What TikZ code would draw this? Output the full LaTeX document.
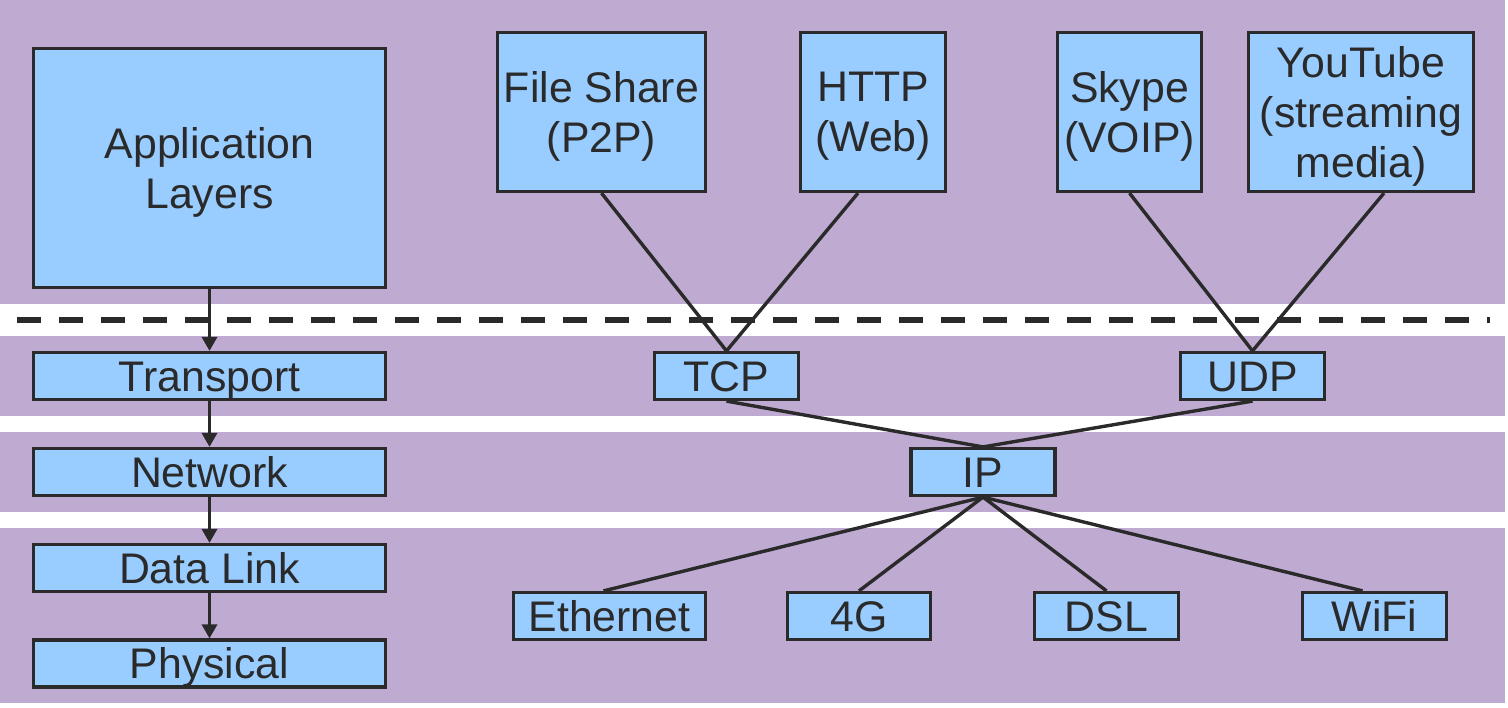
\documentclass[tikz,border=0pt]{standalone}
\usepackage{fontspec}
\setmainfont{Liberation Sans}
\usetikzlibrary{arrows.meta}
\definecolor{bandc}{RGB}{191,170,210}
\definecolor{boxc}{RGB}{153,204,255}
\definecolor{inkc}{RGB}{42,42,42}
% last line of a multi-line label: no depth, so the block centres on cap height to baseline
\newcommand{\lastrow}[1]{\smash{#1}}
\tikzset{
  box/.style={draw=inkc, fill=boxc, line width=1.6pt, inner sep=0pt,
    align=center, text=inkc, font=\fontsize{21.4}{25}\selectfont},
  onerow/.style={box, text height=15.3pt, text depth=0pt},
  band/.style={fill=bandc, draw=none},
  link/.style={draw=inkc, line width=1.7pt},
  down/.style={draw=inkc, line width=1.7pt, -{Triangle[width=7.5pt,length=7pt]}},
  sepline/.style={draw=inkc, line width=2.8pt, dash pattern=on 12pt off 9pt}
}
\begin{document}
\begin{tikzpicture}[x=0.5pt,y=-0.5pt]
  \useasboundingbox (0,0) rectangle (1508,707);
  % horizontal layer bands
  \fill[white] (0,0) rectangle (1508,707);
  \path[band] (0,0) rectangle (1505,304);
  \path[band] (0,336) rectangle (1505,416);
  \path[band] (0,432) rectangle (1505,512);
  \path[band] (0,528) rectangle (1505,703);
  % boundary between application and transport
  \draw[sepline] (17,320) -- (1490,320);

  % layer stack on the left
  \node[box, minimum width=176pt, minimum height=119.5pt] (app) at (209.5,168) {Application\\\lastrow{Layers}};
  \node[onerow, minimum width=176pt, minimum height=23.5pt] (trans) at (209.5,376) {Transport};
  \node[onerow, minimum width=176pt, minimum height=23.5pt] (net) at (209.5,472) {Network};
  \node[onerow, minimum width=176pt, minimum height=23.5pt] (dl) at (209.5,568) {Data Link};
  \node[onerow, minimum width=176pt, minimum height=23.5pt] (phy) at (209.5,663.5) {Physical};

  \draw[down] (app.south) -- (trans.north);
  \draw[down] (trans.south) -- (net.north);
  \draw[down] (net.south) -- (dl.north);
  \draw[down] (dl.south) -- (phy.north);

  % applications
  \node[box, minimum width=104pt, minimum height=79.5pt] (fs) at (601.5,112) {File Share\\\lastrow{(P2P)}};
  \node[box, minimum width=72.5pt, minimum height=79.5pt] (http) at (873,112) {HTTP\\\lastrow{(Web)}};
  \node[box, minimum width=72pt, minimum height=79.5pt] (skype) at (1129.5,112) {Skype\\\lastrow{(VOIP)}};
  \node[box, minimum width=112.5pt, minimum height=79.5pt] (yt) at (1361,112) {YouTube\\(streaming\\\lastrow{media)}};

  % transport and network protocols
  \node[onerow, minimum width=72pt, minimum height=23.5pt] (tcp) at (726.5,376) {TCP};
  \node[onerow, minimum width=72pt, minimum height=23.5pt] (udp) at (1252.5,376) {UDP};
  \node[onerow, minimum width=72pt, minimum height=23.5pt] (ip) at (983,472) {IP};

  % link technologies
  \node[onerow, minimum width=96pt, minimum height=23.5pt] (eth) at (609.5,616) {Ethernet};
  \node[onerow, minimum width=71.5pt, minimum height=23.5pt] (g4) at (859,616) {4G};
  \node[onerow, minimum width=72pt, minimum height=23.5pt] (dsl) at (1106.5,616) {DSL};
  \node[onerow, minimum width=72pt, minimum height=23.5pt] (wifi) at (1374.5,616) {WiFi};

  % protocol connections
  \draw[link] (fs.south) -- (tcp.north);
  \draw[link] ([xshift=-7.5pt]http.south) -- (tcp.north);
  \draw[link] (skype.south) -- (udp.north);
  \draw[link] ([xshift=11.5pt]yt.south) -- (udp.north);
  \draw[link] (tcp.south) -- (ip.north);
  \draw[link] (udp.south) -- (ip.north);
  \draw[link] (ip.south) -- ([xshift=-3pt]eth.north);
  \draw[link] (ip.south) -- (g4.north);
  \draw[link] (ip.south) -- (dsl.north);
  \draw[link] (ip.south) -- ([xshift=-6pt]wifi.north);
\end{tikzpicture}
\end{document}
